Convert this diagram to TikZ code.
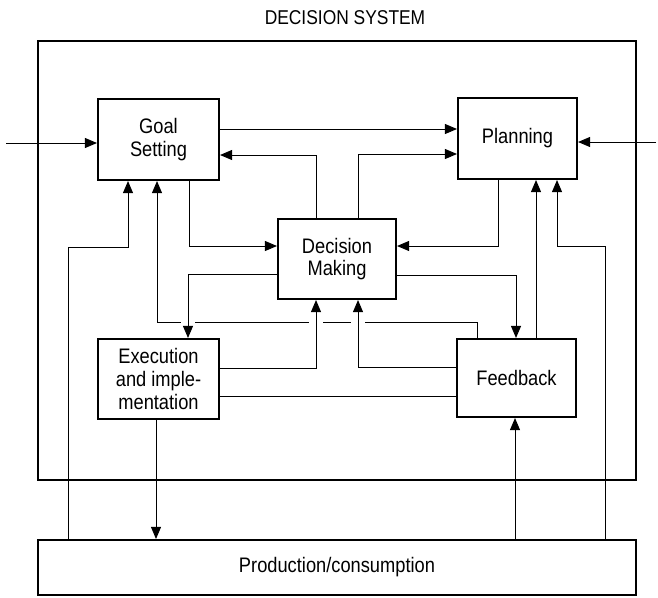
\documentclass[tikz,border=0pt]{standalone}
\usepackage{fontspec}
\setmainfont{Liberation Sans}[FakeStretch=0.87]
\usetikzlibrary{arrows.meta}
\begin{document}
\begin{tikzpicture}[x=1pt,y=-1pt,
  box/.style={draw, line width=2.1pt, rectangle, align=center, inner sep=0pt,
    font=\fontsize{21}{22.8}\selectfont},
  conn/.style={line width=0.9pt},
  arr/.style={conn, -{Triangle[length=12pt,width=10pt]}},
  gapline/.style={draw=white, line width=5pt}]
\useasboundingbox (0,0) rectangle (658,597);
% title and outer system box
\node[font=\fontsize{20}{22}\selectfont] (title) at (345,18) {DECISION SYSTEM};
\node[draw, line width=2.6pt, minimum width=598pt, minimum height=439pt, inner sep=0pt] (sys) at (337,260.5) {};
% boxes
\node[box, minimum width=121pt, minimum height=81pt] (goal) at (158.5,139.5) {Goal\\Setting};
\node[box, minimum width=119pt, minimum height=81pt] (plan) at (517.5,138.5) {Planning};
\node[box, minimum width=118pt, minimum height=80pt] (dec) at (337,259) {Decision\\Making};
\node[box, minimum width=121pt, minimum height=80pt] (exe) at (158.5,379) {Execution\\and imple-\\mentation};
\node[box, minimum width=119pt, minimum height=78pt] (fb) at (516.5,378) {Feedback};
\node[box, minimum width=598pt, minimum height=55pt] (prod) at (337,567.5) {Production/consumption};
% external inputs
\coordinate (inL) at (6,143);
\coordinate (inR) at (656,142);
\draw[arr] (inL) -- (goal.west |- inL);
\draw[arr] (inR) -- (plan.east |- inR);
% goal -> planning
\draw[arr] (goal.east |- 0,129) -- (plan.west |- 0,129);
% decision -> goal, decision -> planning
\draw[arr] (dec.north -| 316,0) |- (goal.east |- 0,155);
\draw[arr] (dec.north -| 358,0) |- (plan.west |- 0,154);
% planning -> decision, goal -> decision
\draw[arr] (plan.south -| 498,0) |- (dec.east |- 0,246);
\draw[arr] (goal.south -| 189,0) |- (dec.west |- 0,246);
% feedback -> goal (with crossing gaps)
\coordinate (k1) at (157,322);
\draw[arr] (fb.north -| 477,0) |- (k1) -- (goal.south -| k1);
\draw[gapline] (181,322) -- (195,322);
\draw[gapline] (309,322) -- (323,322);
\draw[gapline] (351,322) -- (365,322);
% decision -> execution, decision -> feedback
\draw[arr] (dec.west |- 0,274) -| (exe.north -| 188,0);
\draw[arr] (dec.east |- 0,275) -| (fb.north -| 516,0);
% execution -> decision, feedback -> decision
\draw[arr] (exe.east |- 0,368) -| (dec.south -| 316,0);
\draw[arr] (fb.west |- 0,367) -| (dec.south -| 358,0);
% execution -- feedback
\draw[conn] (exe.east |- 0,396) -- (fb.west |- 0,396);
% production -> goal, production -> planning
\coordinate (k2) at (128,247);
\coordinate (k3) at (557,246);
\draw[arr] (prod.north -| 68,0) |- (k2) -- (goal.south -| k2);
\draw[arr] (prod.north -| 605,0) |- (k3) -- (plan.south -| k3);
% feedback -> planning
\draw[arr] (fb.north -| 536,0) -- (plan.south -| 536,0);
% production -> feedback
\draw[arr] (prod.north -| 515,0) -- (fb.south -| 515,0);
% execution -> production
\draw[arr] (exe.south -| 156,0) -- (prod.north -| 156,0);
\end{tikzpicture}
\end{document}
